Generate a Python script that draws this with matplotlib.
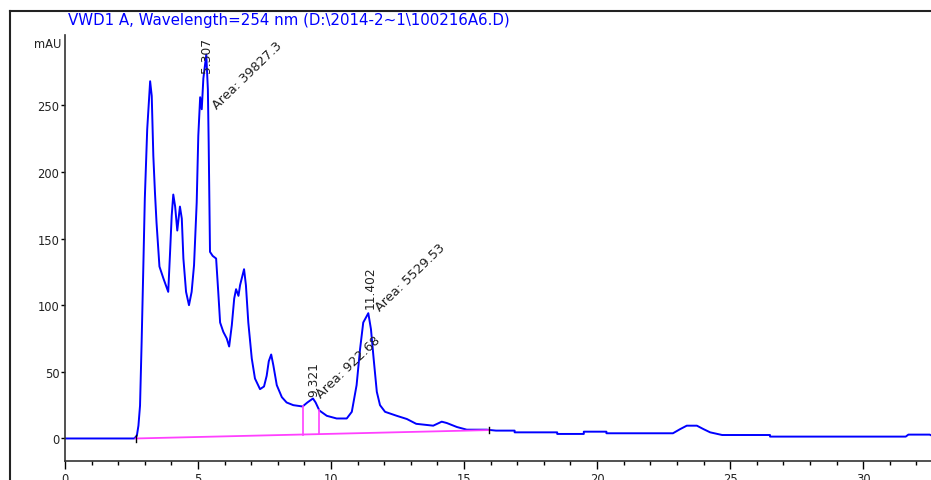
import numpy as np
import matplotlib.pyplot as plt
from matplotlib.lines import Line2D

plt.rcParams['font.family'] = ['DejaVu Sans']

# chromatogram trace (retention time in min, signal in mAU)
time = [0.0, 2.6, 2.7, 2.76, 2.82, 2.88, 2.94, 3.0, 3.09, 3.2, 3.26, 3.32, 3.38, 3.44,
        3.55, 3.70, 3.88, 3.95, 4.01, 4.07, 4.14, 4.22, 4.32, 4.39, 4.45, 4.55, 4.66,
        4.76, 4.85, 4.95, 5.01, 5.08, 5.14, 5.2, 5.31, 5.37, 5.40, 5.45, 5.55, 5.68,
        5.76, 5.83, 5.95, 6.08, 6.17, 6.27, 6.36, 6.43, 6.52, 6.58, 6.73, 6.80, 6.89,
        7.02, 7.14, 7.33, 7.48, 7.58, 7.66, 7.75, 7.83, 7.96, 8.15, 8.33, 8.58, 8.93,
        9.11, 9.32, 9.42, 9.56, 9.84, 10.21, 10.59, 10.78, 10.96, 11.09, 11.21, 11.40,
        11.50, 11.60, 11.72, 11.84, 12.03, 12.47, 12.85, 13.2, 13.84, 14.16, 14.35,
        14.73, 15.1, 15.85, 16.2, 16.9, 16.9, 18.5, 18.5, 19.5, 19.5, 20.35, 20.35,
        22.85, 23.12, 23.37, 23.75, 24.0, 24.25, 24.7, 26.5, 26.5, 31.6, 31.7, 32.5, 32.7]
signal = [0, 0, 2, 9.6, 24.6, 72, 125, 180, 232, 268, 257, 212, 185, 162,
          129, 120, 110, 140, 167, 183, 174, 156, 174, 165, 135, 110, 100,
          110, 130, 177, 227, 256, 247, 270, 288, 262, 222, 140, 137, 135,
          110, 87, 80, 75, 69, 85, 105, 112, 107, 115, 127, 115, 87,
          60, 45, 37, 39, 47, 58, 63, 55, 40, 31, 27, 25, 24,
          27, 30, 27, 21, 17, 15, 15, 20, 40, 67, 87, 94,
          82, 60, 35, 25, 20, 17, 14.6, 11, 9.6, 12.6, 11.6,
          8.6, 6.6, 6.6, 5.9, 5.9, 4.6, 4.6, 3.4, 3.4, 5.1, 5.1, 3.9,
          3.9, 7, 9.6, 9.6, 7, 4.6, 2.6, 2.6, 1.4, 1.4, 2.9, 2.9, 1.0]

# integration baseline and peak boundaries
base_t = [2.65, 15.95]
base_y = [0.0, 6.3]
drop_t = [8.93, 9.55]
drop_y = [24, 21.5]

# peak annotations
rt_labels = ["5.307", "9.321", "11.402"]
rt_pos = [(5.31, 275), (9.34, 32), (11.47, 98)]
area_labels = ["Area: 39827.3", "Area: 922.68", "Area: 5529.53"]
area_pos = [(5.62, 249), (9.54, 32), (11.76, 97.5)]

fig = plt.figure(figsize=(9.31, 4.81), dpi=100)
ax = fig.add_axes([65 / 931, 19 / 481, 1 - 65 / 931, 426 / 481])

ax.plot(time, signal, color='#0000ff', lw=1.4)
ax.plot(base_t, base_y, color='#ff40ff', lw=1.3)
for t, y in zip(drop_t, drop_y):
    yb = np.interp(t, base_t, base_y)
    ax.plot([t, t], [yb, y], color='#ff40ff', lw=1.2)
for t, y in zip(base_t, base_y):
    ax.plot([t, t], [y - 2.5, y + 2.5], color='black', lw=1)

for s, (x, y) in zip(rt_labels, rt_pos):
    ax.text(x, y, s, rotation=90, ha='center', va='bottom', fontsize=8.8,
            color='#222222', clip_on=False)
for s, (x, y) in zip(area_labels, area_pos):
    ax.text(x, y, s, rotation=44, ha='left', va='center', rotation_mode='anchor',
            fontsize=9.3, color='#222222', clip_on=False)

ax.set_xlim(0, 32.55)
ax.set_ylim(-16.9, 302.7)
ax.set_xticks(np.arange(0, 31, 5))
ax.set_xticks(np.arange(0, 33, 1), minor=True)
ax.set_yticks(np.arange(0, 251, 50))
ax.tick_params(axis='x', which='major', length=6, width=1, pad=2, labelsize=8.3,
               labelcolor='#222222')
ax.tick_params(axis='x', which='minor', length=3, width=1)
ax.tick_params(axis='y', length=3, width=1, pad=1, labelsize=8.3, labelcolor='#222222')
for side in ['top', 'right']:
    ax.spines[side].set_visible(False)
for side in ['left', 'bottom']:
    ax.spines[side].set_color('#333333')
    ax.spines[side].set_linewidth(1.2)

ax.text(-0.004, 296, "mAU", transform=ax.get_yaxis_transform(), ha='right', va='center',
        fontsize=8.3, color='#222222')

fig.text(68 / 931, 1 - 20 / 481, r"VWD1 A, Wavelength=254 nm (D:\2014-2~1\100216A6.D)",
         color='#0000ff', fontsize=10.8, ha='left', va='center')

# outer frame (left and top edges)
fig.add_artist(Line2D([10 / 931, 10 / 931], [0, 1 - 12 / 481], color='#222222', lw=1.5,
                      transform=fig.transFigure))
fig.add_artist(Line2D([10 / 931, 1], [1 - 12 / 481, 1 - 12 / 481], color='#222222', lw=1.5,
                      transform=fig.transFigure))

fig.savefig("out.png", dpi=100)
